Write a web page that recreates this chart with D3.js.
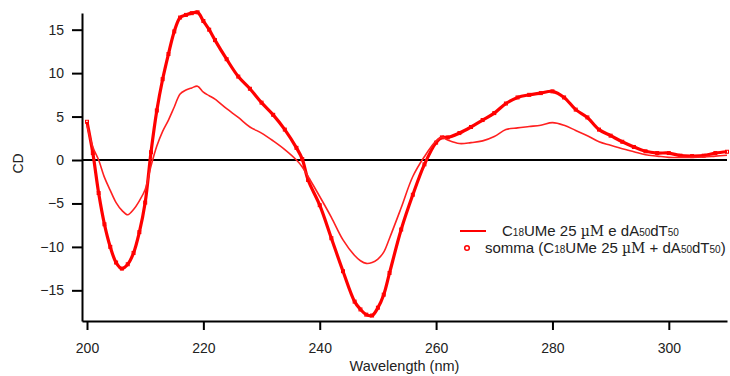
<!DOCTYPE html>
<html>
<head>
<meta charset="utf-8">
<script src="https://cdn.jsdelivr.net/npm/d3@7"></script>
<style>
  body { margin: 0; background: #fff; }
  svg { font-family: "Liberation Sans", Arial, sans-serif; }
  .axis path, .axis line { stroke: #000; stroke-width: 2; }
  .axis text { font-size: 14px; fill: #222; }
</style>
</head>
<body>
<svg id="plotarea" width="730" height="376"></svg>
<script>
// wavelength (nm)
const wavelength = [200, 201, 202, 203, 204, 205, 206, 207, 208, 209, 210, 211, 212, 213, 214, 215, 216, 217, 218, 219,
  220, 221, 222, 224, 226, 228, 230, 232, 234, 236, 237, 238, 240, 242, 244, 246, 247, 248, 249, 250, 251, 252,
  254, 256, 258, 260, 261, 262, 264, 266, 268, 270, 272, 274, 276, 278, 280, 282, 284, 286, 288, 290, 292, 294,
  296, 298, 300, 302, 304, 306, 308, 310];

// C18UMe 25 uM e dA50dT50 (measured)
const misura = [4.0, 1.5, 0.0, -2.0, -3.5, -4.9, -5.8, -6.3, -5.7, -4.7, -3.4, -0.7, 1.6, 3.3, 4.6, 6.1, 7.6, 8.05, 8.3, 8.5,
  7.8, 7.4, 7.0, 5.9, 4.9, 3.8, 3.1, 2.2, 1.2, 0.0, -0.8, -1.9, -4.2, -6.6, -9.2, -11.0, -11.6, -11.9, -11.8, -11.4, -10.6, -9.0,
  -5.5, -1.9, 0.4, 2.2, 2.6, 2.3, 1.9, 2.0, 2.2, 2.7, 3.5, 3.7, 3.85, 4.0, 4.3, 4.0, 3.4, 2.8, 2.1, 1.7, 1.3, 0.95,
  0.6, 0.45, 0.3, 0.3, 0.3, 0.35, 0.45, 0.55];

// somma (C18UMe 25 uM + dA50dT50)
const somma = [4.4, 0.8, -3.8, -7.4, -10.0, -11.8, -12.5, -12.0, -10.7, -8.3, -4.9, 0.9, 5.7, 9.3, 12.2, 14.8, 16.4, 16.7, 16.9, 17.0,
  16.0, 15.0, 13.8, 11.6, 9.6, 8.2, 6.6, 5.2, 3.5, 1.4, 0.1, -2.3, -5.2, -9.0, -12.8, -16.3, -17.2, -17.8, -17.9, -17.0, -15.5, -13.0,
  -8.0, -4.0, -0.5, 2.0, 2.6, 2.6, 3.1, 3.8, 4.6, 5.4, 6.5, 7.2, 7.5, 7.7, 7.9, 7.2, 5.8, 4.9, 3.5, 2.8, 2.1, 1.5,
  1.0, 0.8, 0.8, 0.5, 0.45, 0.5, 0.8, 0.95];

const xTicks = [200, 220, 240, 260, 280, 300];
const yTicks = [-15, -10, -5, 0, 5, 10, 15];

const margin = { top: 13, right: 3, bottom: 55, left: 82 };
const dims = { width: 730 - margin.left - margin.right, height: 376 - margin.top - margin.bottom };

const svg = d3.select('#plotarea')
  .append('g')
  .attr('transform', `translate(${margin.left}, ${margin.top})`);

const x = d3.scaleLinear().domain([199.14, 310]).range([0, dims.width]);
const y = d3.scaleLinear().domain([-18.53, 16.92]).range([dims.height, 0]);

// zero line
svg.append('line')
   .attr('x1', 0).attr('x2', dims.width)
   .attr('y1', y(0)).attr('y2', y(0))
   .attr('stroke', '#000').attr('stroke-width', 2);

const ptsA = wavelength.map((w, i) => [w, misura[i]]);
const ptsB = wavelength.map((w, i) => [w, somma[i]]);

const line = d3.line()
  .x(d => x(d[0]))
  .y(d => y(d[1]))
  .curve(d3.curveCatmullRom.alpha(0.5));

// somma: dense markers -> thick trace
svg.append('path')
   .attr('d', line(ptsB))
   .attr('fill', 'none')
   .attr('stroke', '#ff0000')
   .attr('stroke-width', 3.2);

svg.selectAll('.mk')
   .data(ptsB)
   .enter().append('rect')
   .attr('class', 'mk')
   .attr('x', d => x(d[0]) - 1.5)
   .attr('y', d => y(d[1]) - 1.5)
   .attr('width', 3).attr('height', 3)
   .attr('fill', 'none')
   .attr('stroke', '#ff0000')
   .attr('stroke-width', 1);

// measured spectrum
svg.append('path')
   .attr('d', line(ptsA))
   .attr('fill', 'none')
   .attr('stroke', '#ff2020')
   .attr('stroke-width', 1.6);

// axes
svg.append('g')
   .attr('class', 'axis')
   .attr('transform', `translate(0, ${dims.height})`)
   .call(d3.axisBottom(x).tickValues(xTicks).tickSize(9).tickSizeOuter(0).tickPadding(13));

svg.append('g')
   .attr('class', 'axis')
   .call(d3.axisLeft(y).tickValues(yTicks).tickSize(10).tickSizeOuter(0).tickPadding(8));

// axis labels
svg.append('text')
   .attr('x', dims.width / 2)
   .attr('y', dims.height + 50)
   .style('text-anchor', 'middle')
   .style('font-size', '14.5px')
   .attr('fill', '#222')
   .text('Wavelength (nm)');

svg.append('text')
   .attr('transform', `translate(${23 - margin.left}, ${y(-0.4)}) rotate(-90)`)
   .style('text-anchor', 'middle')
   .style('font-size', '14px')
   .attr('fill', '#222')
   .text('CD');

// legend
const lg = d3.select('#plotarea').append('g');
lg.append('line')
  .attr('x1', 460).attr('x2', 486).attr('y1', 231).attr('y2', 231)
  .attr('stroke', '#ff0000').attr('stroke-width', 2);
lg.append('circle')
  .attr('cx', 467).attr('cy', 248).attr('r', 2.3)
  .attr('fill', '#fff').attr('stroke', '#ff0000').attr('stroke-width', 1.5);

function legendText(xp, yp, parts) {
  const t = lg.append('text').attr('x', xp).attr('y', yp)
    .style('font-size', '15px').attr('fill', '#222');
  parts.forEach(p => {
    const s = t.append('tspan').text(p[0]);
    if (p[1] === 'sub') s.style('font-size', '10px');
    if (p[1] === 'mu') s.style('font-family', '"DejaVu Serif", "Liberation Serif", serif').style('font-size', '14px');
  });
}

legendText(502, 236, [['C'], ['18', 'sub'], ['UMe 25 '], ['\u00b5M', 'mu'], [' e dA'], ['50', 'sub'], ['dT'], ['50', 'sub']]);
legendText(485, 253, [['somma (C'], ['18', 'sub'], ['UMe 25 '], ['\u00b5M', 'mu'], [' + dA'], ['50', 'sub'], ['dT'], ['50', 'sub'], [')']]);
</script>
</body>
</html>
